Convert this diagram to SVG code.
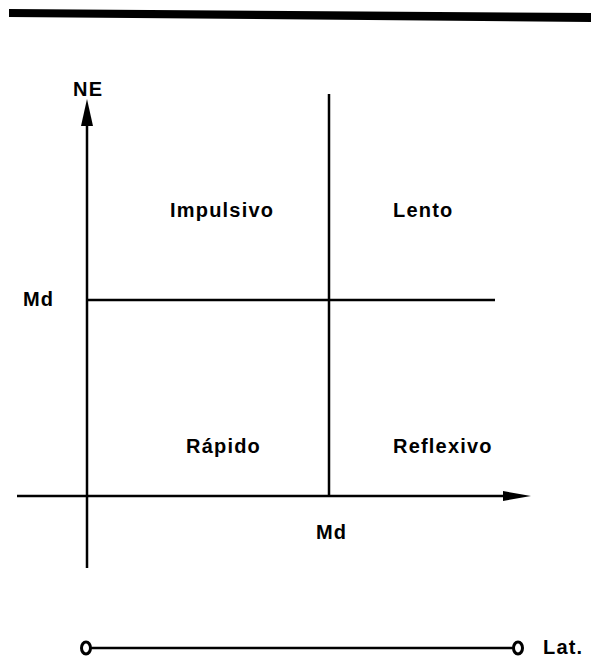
<svg xmlns="http://www.w3.org/2000/svg" width="591" height="659" viewBox="0 0 591 659">
<style>
.t{font-family:"Liberation Sans",Arial,sans-serif;font-weight:bold;font-size:20px;letter-spacing:1.2px;fill:#000}
.ln{stroke:#000;stroke-width:2.5;fill:none}
</style>
<rect width="591" height="659" fill="#fff"/>
<polygon points="9,9 591,13 591,22 9,17" fill="#000"/>
<g id="connectors">
<line class="ln" x1="87" y1="120" x2="87" y2="568"/>
<polygon points="87,99 81,126 93,126" fill="#000"/>
<line class="ln" x1="17" y1="496" x2="510" y2="496"/>
<polygon points="531,496 503,491 503,501" fill="#000"/>
<line class="ln" x1="329" y1="94" x2="329" y2="496"/>
<line class="ln" x1="87" y1="300" x2="495" y2="300"/>
<line class="ln" x1="91" y1="648" x2="513" y2="648"/>
<ellipse cx="86" cy="648" rx="4.5" ry="6" fill="#fff" stroke="#000" stroke-width="3"/>
<ellipse cx="518" cy="648" rx="4.5" ry="6" fill="#fff" stroke="#000" stroke-width="3"/>
</g>
<g id="label-NE"><text class="t" x="73" y="96" font-size="21">NE</text></g>
<g id="label-Md-left"><text class="t" x="23" y="306">Md</text></g>
<g id="label-Md-bottom"><text class="t" x="316" y="539">Md</text></g>
<g id="label-Lat"><text class="t" x="543" y="654" letter-spacing="0.8">Lat.</text></g>
<g id="q-impulsivo"><text class="t" x="170" y="217">Impulsivo</text></g>
<g id="q-lento"><text class="t" x="393" y="217">Lento</text></g>
<g id="q-rapido"><text class="t" x="186" y="453">Rápido</text></g>
<g id="q-reflexivo"><text class="t" x="393" y="453">Reflexivo</text></g>
</svg>
